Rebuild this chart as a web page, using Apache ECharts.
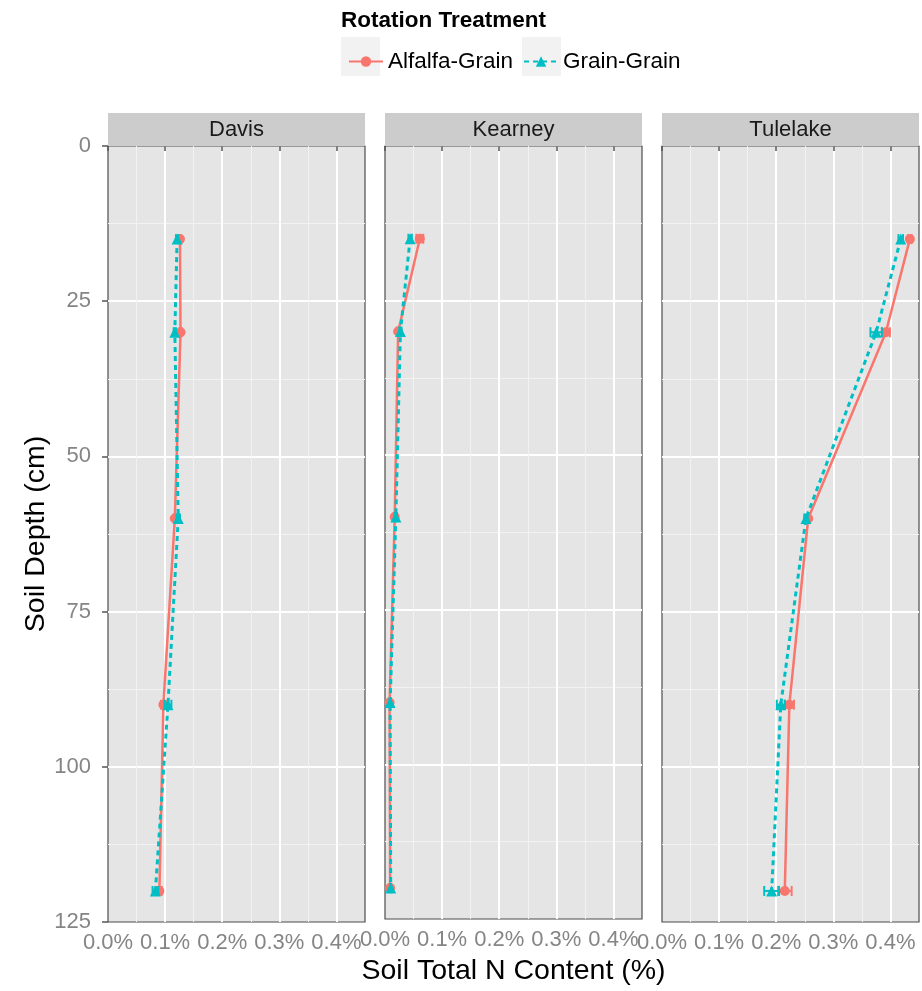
<!DOCTYPE html>
<html>
<head>
<meta charset="utf-8">
<script src="https://cdn.jsdelivr.net/npm/echarts@6/dist/echarts.min.js"></script>
<style>
html,body{margin:0;padding:0;background:#fff;}
#chart{width:922px;height:991px;}
</style>
</head>
<body>
<div id="chart"></div>
<script>
// ---- data ----
var sites = ['Davis', 'Kearney', 'Tulelake'];
var treatments = ['Alfalfa-Grain', 'Grain-Grain'];
var depths = [15, 30, 60, 90, 120];

var davisAlfalfa = [0.126, 0.127, 0.117, 0.097, 0.090];
var davisGrain   = [0.121, 0.117, 0.123, 0.105, 0.083];
var davisAlfalfaErr = [0.002, 0.002, 0.002, 0.004, 0.004];
var davisGrainErr   = [0.002, 0.002, 0.003, 0.006, 0.005];

var kearneyAlfalfa = [0.061, 0.023, 0.017, 0.008, 0.009];
var kearneyGrain   = [0.044, 0.027, 0.019, 0.009, 0.010];
var kearneyAlfalfaErr = [0.006, 0.002, 0.002, 0.001, 0.001];
var kearneyGrainErr   = [0.003, 0.002, 0.002, 0.001, 0.001];

var tulelakeAlfalfa = [0.434, 0.392, 0.256, 0.223, 0.215];
var tulelakeGrain   = [0.418, 0.375, 0.252, 0.208, 0.192];
var tulelakeAlfalfaErr = [0.003, 0.007, 0.003, 0.008, 0.012];
var tulelakeGrainErr   = [0.004, 0.010, 0.003, 0.007, 0.013];

var xTickValues = [0.0, 0.1, 0.2, 0.3, 0.4];
var yTickValues = [0, 25, 50, 75, 100, 125];

var siteData = [
  {alf: davisAlfalfa, gr: davisGrain, alfErr: davisAlfalfaErr, grErr: davisGrainErr},
  {alf: kearneyAlfalfa, gr: kearneyGrain, alfErr: kearneyAlfalfaErr, grErr: kearneyGrainErr},
  {alf: tulelakeAlfalfa, gr: tulelakeGrain, alfErr: tulelakeAlfalfaErr, grErr: tulelakeGrainErr}
];

// ---- styling / layout ----
var FONT = 'Liberation Sans, Arial, sans-serif';
var RED = '#F8766D', CYAN = '#00BFC4';
var gridLefts = [108, 385, 662];
var gridWidth = 257;
var gridTop = 146, gridHeight = 776;
var XMAX = 0.45;

var grids = [], xAxes = [], yAxes = [], series = [], graphics = [];

function errRender(color) {
  return function (params, api) {
    var x = api.value(0), y = api.value(1), e = api.value(2);
    var p1 = api.coord([x - e, y]);
    var p2 = api.coord([x + e, y]);
    var h = 5;
    var st = {stroke: color, lineWidth: 2};
    return {type: 'group', children: [
      {type: 'line', shape: {x1: p1[0], y1: p1[1], x2: p2[0], y2: p2[1]}, style: st},
      {type: 'line', shape: {x1: p1[0], y1: p1[1] - h, x2: p1[0], y2: p1[1] + h}, style: st},
      {type: 'line', shape: {x1: p2[0], y1: p2[1] - h, x2: p2[0], y2: p2[1] + h}, style: st}
    ]};
  };
}

for (var g = 0; g < 3; g++) {
  grids.push({
    left: gridLefts[g], top: gridTop, width: gridWidth, height: gridHeight,
    show: true, backgroundColor: '#e5e5e5', borderColor: '#4d4d4d', borderWidth: 1.2
  });
  // main x axis
  xAxes.push({
    gridIndex: g, type: 'value', min: 0, max: XMAX, interval: 0.1,
    name: g === 1 ? 'Soil Total N Content (%)' : '',
    nameLocation: 'middle', nameGap: 38,
    nameTextStyle: {fontFamily: FONT, fontSize: 28.5, color: '#000'},
    axisLine: {show: false},
    axisTick: {show: true, length: 5, lineStyle: {color: '#555', width: 1.5}},
    axisLabel: {show: true, showMaxLabel: false, margin: 10, color: '#858585', fontSize: 22, fontFamily: FONT,
      formatter: function (v) { return v.toFixed(1) + '%'; }},
    splitLine: {show: true, showMinLine: false, showMaxLine: false, lineStyle: {color: '#ffffff', width: 2}},
    z: 2
  });
  // minor x gridlines
  xAxes.push({
    gridIndex: g, type: 'value', min: 0, max: XMAX, interval: 0.05,
    axisLine: {show: false}, axisTick: {show: false}, axisLabel: {show: false},
    splitLine: {show: true, showMinLine: false, showMaxLine: false,
      lineStyle: {color: ['#f2f2f2', 'rgba(0,0,0,0)'], width: 1}},
    z: 1
  });
  yAxes.push({
    gridIndex: g, type: 'value', inverse: true, min: 0, max: 125, interval: 25,
    name: g === 0 ? 'Soil Depth (cm)' : '',
    nameLocation: 'middle', nameGap: 57, nameRotate: 90,
    nameTextStyle: {fontFamily: FONT, fontSize: 28.5, color: '#000'},
    axisLine: {show: false},
    axisTick: {show: g === 0, length: 6, lineStyle: {color: '#555', width: 1.5}},
    axisLabel: {show: g === 0, margin: 17, color: '#858585', fontSize: 22, fontFamily: FONT},
    splitLine: {show: true, showMinLine: false, showMaxLine: false, lineStyle: {color: '#ffffff', width: 2}},
    minorTick: {show: false, splitNumber: 2},
    minorSplitLine: {show: true, lineStyle: {color: '#f2f2f2', width: 1}}
  });

  var d = siteData[g];
  var alfPts = [], grPts = [], alfErrPts = [], grErrPts = [];
  for (var i = 0; i < depths.length; i++) {
    alfPts.push([d.alf[i], depths[i]]);
    grPts.push([d.gr[i], depths[i]]);
    alfErrPts.push([d.alf[i], depths[i], d.alfErr[i]]);
    grErrPts.push([d.gr[i], depths[i], d.grErr[i]]);
  }
  series.push({
    type: 'custom', xAxisIndex: 2 * g, yAxisIndex: g, renderItem: errRender(RED),
    data: alfErrPts, encode: {x: 0, y: 1}, z: 3, silent: true
  });
  series.push({
    name: treatments[0], type: 'line', xAxisIndex: 2 * g, yAxisIndex: g, data: alfPts,
    symbol: 'circle', symbolSize: 10, color: RED,
    lineStyle: {color: RED, width: 2.5, type: 'solid'},
    itemStyle: {color: RED}, z: 4
  });
  series.push({
    type: 'custom', xAxisIndex: 2 * g, yAxisIndex: g, renderItem: errRender(CYAN),
    data: grErrPts, encode: {x: 0, y: 1}, z: 5, silent: true
  });
  series.push({
    name: treatments[1], type: 'line', xAxisIndex: 2 * g, yAxisIndex: g, data: grPts,
    symbol: 'triangle', symbolSize: 11, color: CYAN,
    lineStyle: {color: CYAN, width: 3, type: [5, 4]},
    itemStyle: {color: CYAN}, z: 6
  });

  // facet strip
  graphics.push({
    type: 'rect', shape: {x: gridLefts[g], y: 113, width: gridWidth, height: 33},
    style: {fill: '#cccccc'}, z: 0
  });
  graphics.push({
    type: 'text', x: gridLefts[g] + gridWidth / 2, y: 130,
    style: {text: sites[g], fill: '#1a1a1a', font: '22px ' + FONT, align: 'center', verticalAlign: 'middle'}, z: 1
  });
}

// legend key backgrounds
graphics.push({type: 'rect', shape: {x: 341, y: 37, width: 39, height: 39}, style: {fill: '#f2f2f2'}, z: -1});
graphics.push({type: 'rect', shape: {x: 522, y: 37, width: 39, height: 39}, style: {fill: '#f2f2f2'}, z: -1});

var option = {
  animation: false,
  backgroundColor: '#ffffff',
  title: {
    text: 'Rotation Treatment', left: 336, top: 4,
    textStyle: {fontFamily: FONT, fontSize: 22.5, fontWeight: 'bold', color: '#000'}
  },
  legend: {
    data: treatments, left: 343, top: 45, itemWidth: 34, itemHeight: 13, itemGap: 10,
    textStyle: {fontFamily: FONT, fontSize: 22.5, color: '#000', padding: [0, 0, 0, 0]}
  },
  grid: grids, xAxis: xAxes, yAxis: yAxes, series: series,
  graphic: graphics
};

var chart = echarts.init(document.getElementById('chart'));
chart.setOption(option);
</script>
</body>
</html>
